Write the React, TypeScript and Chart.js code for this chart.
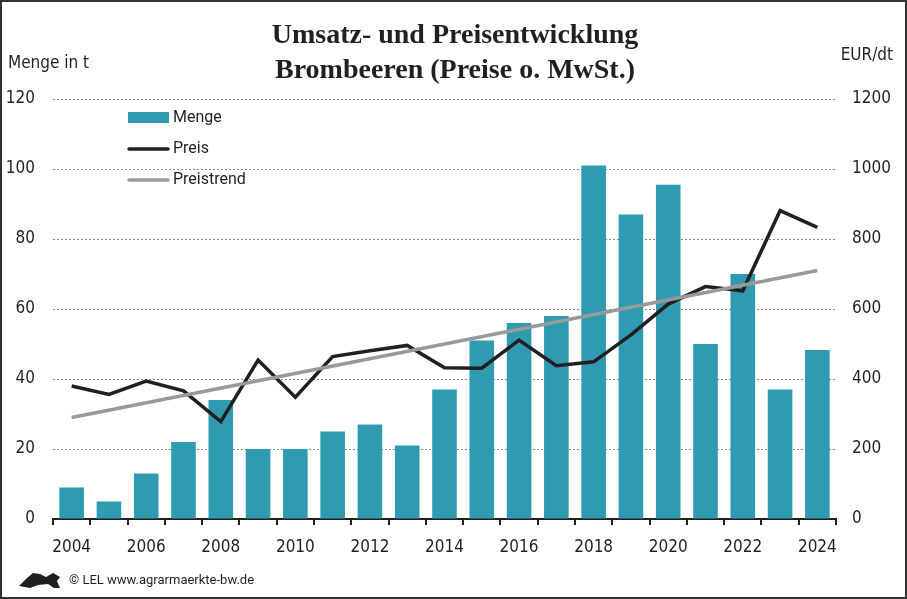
import { useEffect, useRef } from "react";
import { Chart, registerables } from "chart.js";

Chart.register(...registerables);

// data
const years = [
  "2004", "2005", "2006", "2007", "2008", "2009", "2010", "2011", "2012", "2013", "2014",
  "2015", "2016", "2017", "2018", "2019", "2020", "2021", "2022", "2023", "2024",
];
const menge = [9, 5, 13, 22, 34, 20, 20, 25, 27, 21, 37, 51, 56, 58, 101, 87, 95.5, 50, 70, 37, 48.3];
const preis = [380, 356, 394, 366, 278, 454, 348, 464, 481, 496, 432, 431, 511, 438, 449, 526, 614, 664, 652, 881, 833];
// straight trend line: only its two ends are given, the line spans the gap
const preistrend: (number | null)[] = [290, ...Array(19).fill(null), 710];
const shownYears = ["2004", "2006", "2008", "2010", "2012", "2014", "2016", "2018", "2020", "2022", "2024"];

const titleLines = ["Umsatz- und Preisentwicklung", "Brombeeren (Preise o. MwSt.)"];

const DARK = "#231f20";
const TEAL = "#2f9bb0";
const GREY = "#999999";
const tickFont = "'Liberation Sans Narrow', 'DejaVu Sans Condensed', Roboto, sans-serif";
const legendFont = "Roboto, 'Noto Sans', sans-serif";

const decor = {
  id: "decor",
  afterDraw(chart: any) {
    const ctx = chart.ctx as CanvasRenderingContext2D;
    ctx.save();
    ctx.fillStyle = DARK;
    ctx.textBaseline = "middle";

    // title
    ctx.textAlign = "center";
    ctx.font = "bold 28px 'Liberation Serif', 'DejaVu Serif', serif";
    ctx.fillText(titleLines[0], 455, 36);
    ctx.fillText(titleLines[1], 455, 71);

    // axis titles
    ctx.font = `17px ${tickFont}`;
    ctx.textAlign = "left";
    ctx.fillText("Menge in t", 8, 64);
    ctx.textAlign = "right";
    ctx.fillText("EUR/dt", 893, 56);

    // legend
    const lx = 128;
    ctx.textAlign = "left";
    ctx.font = `16px ${legendFont}`;
    ctx.fillStyle = TEAL;
    ctx.fillRect(lx, 112, 41, 11);
    ctx.lineCap = "round";
    ctx.lineWidth = 3.5;
    ctx.strokeStyle = DARK;
    ctx.beginPath();
    ctx.moveTo(lx + 1, 149);
    ctx.lineTo(lx + 40, 149);
    ctx.stroke();
    ctx.strokeStyle = GREY;
    ctx.beginPath();
    ctx.moveTo(lx + 1, 180);
    ctx.lineTo(lx + 40, 180);
    ctx.stroke();
    ctx.fillStyle = DARK;
    ctx.fillText("Menge", 173, 118);
    ctx.fillText("Preis", 173, 149);
    ctx.fillText("Preistrend", 173, 180);

    // footer
    ctx.font = `13px ${legendFont}`;
    ctx.fillText("\u00a9 LEL www.agrarmaerkte-bw.de", 69, 581);

    // little lion mark
    ctx.beginPath();
    ctx.moveTo(19, 586);
    ctx.lineTo(27, 578);
    ctx.lineTo(33, 573);
    ctx.lineTo(40, 574);
    ctx.lineTo(46, 577);
    ctx.lineTo(53, 573);
    ctx.lineTo(60, 577);
    ctx.lineTo(57, 581);
    ctx.lineTo(60, 588);
    ctx.lineTo(54, 588);
    ctx.lineTo(48, 584);
    ctx.lineTo(38, 585);
    ctx.lineTo(30, 588);
    ctx.closePath();
    ctx.fill();

    // outer frame
    ctx.strokeStyle = "#333333";
    ctx.lineWidth = 2;
    ctx.strokeRect(1, 1, chart.width - 2, chart.height - 2);
    ctx.restore();
  },
};

export default function App() {
  const canvasRef = useRef<HTMLCanvasElement | null>(null);

  useEffect(() => {
    if (!canvasRef.current) return;
    const chart = new Chart(canvasRef.current, {
      type: "bar",
      data: {
        labels: years,
        datasets: [
          {
            type: "line",
            label: "Preistrend",
            data: preistrend,
            yAxisID: "y1",
            borderColor: GREY,
            borderWidth: 3.5,
            pointRadius: 0,
            spanGaps: true,
            order: 1,
          },
          {
            type: "line",
            label: "Preis",
            data: preis,
            yAxisID: "y1",
            borderColor: DARK,
            borderWidth: 3.5,
            pointRadius: 0,
            tension: 0,
            order: 2,
          },
          {
            type: "bar",
            label: "Menge",
            data: menge,
            yAxisID: "y",
            backgroundColor: TEAL,
            barPercentage: 0.66,
            categoryPercentage: 1,
            order: 3,
          },
        ] as any,
      },
      options: {
        responsive: false,
        animation: false,
        layout: { padding: { top: 99, left: 0, right: 0, bottom: 0 } },
        plugins: {
          legend: { display: false },
          tooltip: { enabled: false },
          title: { display: false },
        },
        scales: {
          x: {
            type: "category",
            offset: true,
            grid: {
              offset: true,
              drawOnChartArea: false,
              drawTicks: true,
              tickLength: 6,
              color: DARK,
              lineWidth: 2,
            },
            border: { display: true, color: DARK, width: 2 },
            ticks: {
              autoSkip: false,
              maxRotation: 0,
              padding: 12,
              color: DARK,
              font: { family: tickFont, size: 17 },
              callback: (_v: any, i: number) => (shownYears.includes(years[i]) ? years[i] : ""),
            },
            afterFit: (s: any) => {
              s.height = 80;
            },
          },
          y: {
            position: "left",
            min: 0,
            max: 120,
            ticks: {
              stepSize: 20,
              padding: 18,
              color: DARK,
              font: { family: tickFont, size: 17 },
              callback: (v: any) => String(v),
            },
            grid: { color: "#8a8a8a", lineWidth: 1, drawTicks: false },
            border: { display: false, dash: [2, 2] },
            afterFit: (s: any) => {
              s.width = 53;
            },
          },
          y1: {
            position: "right",
            min: 0,
            max: 1200,
            ticks: {
              stepSize: 200,
              padding: 16,
              color: DARK,
              font: { family: tickFont, size: 17 },
              callback: (v: any) => String(v),
            },
            grid: { drawOnChartArea: false, drawTicks: false },
            border: { display: false },
            afterFit: (s: any) => {
              s.width = 71;
            },
          },
        },
      } as any,
      plugins: [decor],
    });
    return () => chart.destroy();
  }, []);

  return (
    <div style={{ position: "fixed", left: 0, top: 0, width: 907, height: 599, background: "#ffffff" }}>
      <canvas ref={canvasRef} width={907} height={599} />
    </div>
  );
}
